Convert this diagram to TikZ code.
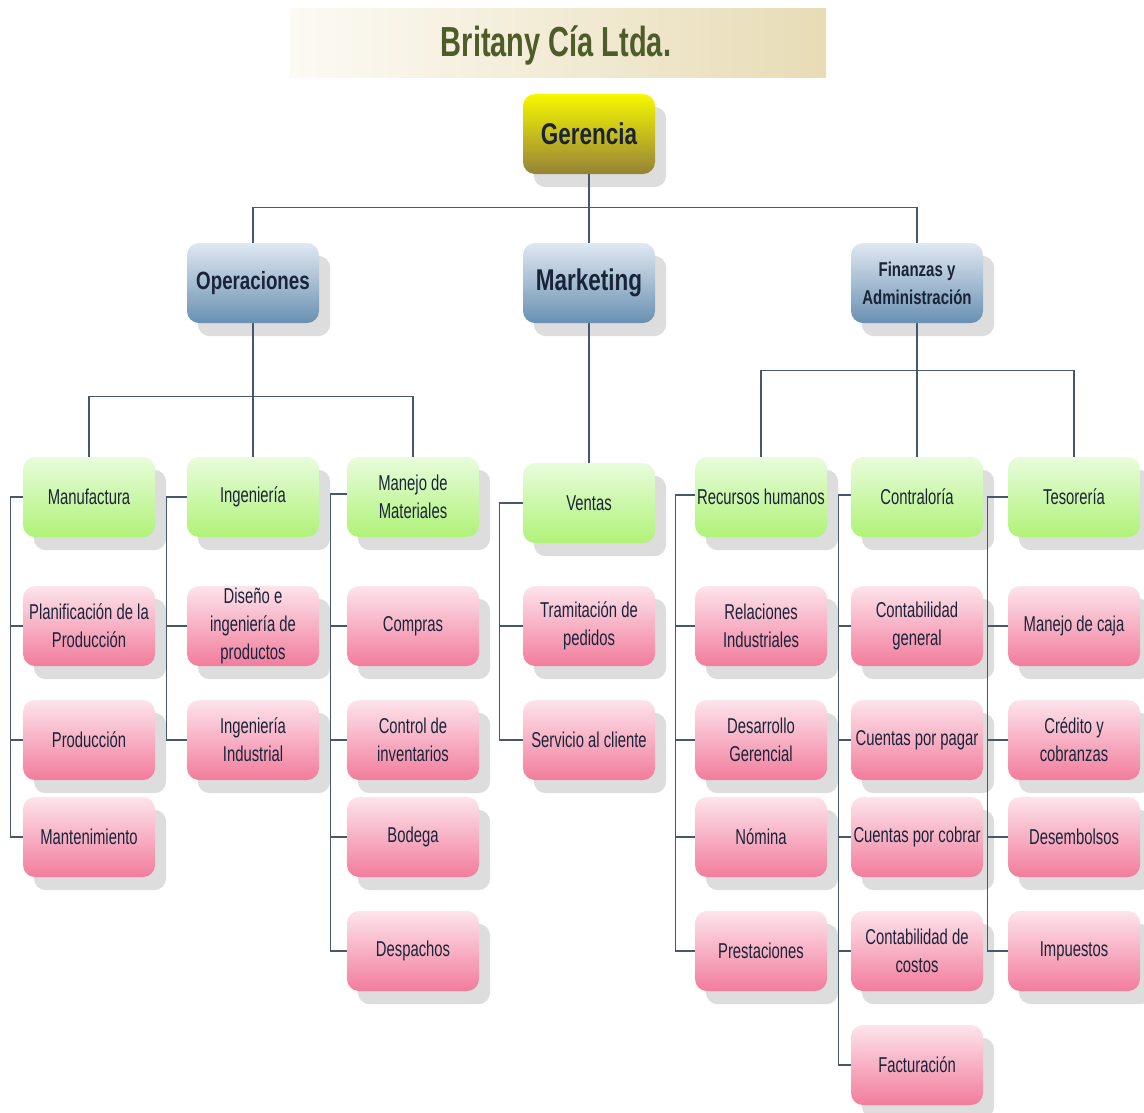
\documentclass[tikz,border=0pt]{standalone}
\usepackage{fontspec}
\setmainfont{Liberation Sans}
\newfontfamily\nf[FakeStretch=0.69]{Liberation Sans}
\newfontfamily\hf[FakeStretch=0.75]{Liberation Sans}
\pgfdeclarelayer{bglayer}
\pgfdeclarelayer{shadowlayer}
\pgfdeclarelayer{linelayer}
\pgfsetlayers{bglayer,shadowlayer,linelayer,main}

\definecolor{txt}{HTML}{1A2438}
\definecolor{titletxt}{HTML}{4E5C2A}
\definecolor{banL}{HTML}{FCFAF4}
\definecolor{banR}{HTML}{E8DCB6}
\definecolor{yTop}{HTML}{F8F800}
\definecolor{yMid}{HTML}{D2C414}
\definecolor{yBot}{HTML}{948238}
\definecolor{bTop}{HTML}{E0E8F2}
\definecolor{bBot}{HTML}{6890B2}
\definecolor{gTop}{HTML}{E8FCDC}
\definecolor{gBot}{HTML}{B0F278}
\definecolor{pTop}{HTML}{FDE4EC}
\definecolor{pBot}{HTML}{F27C9C}
\definecolor{shadowc}{HTML}{DDDDDD}
\definecolor{linec}{HTML}{46586E}

\tikzset{
  card/.style={rounded corners=12pt, minimum width=132pt, minimum height=80pt,
    inner sep=0pt, align=center, text=txt,
    font=\nf\fontsize{21.5}{28}\selectfont},
  greenbox/.style={card, top color=gTop, bottom color=gBot},
  pinkbox/.style={card, top color=pTop, bottom color=pBot},
  bluebox/.style={card, top color=bTop, bottom color=bBot,
    font=\hf\bfseries\fontsize{25}{28}\selectfont},
  goldbox/.style={card, top color=yTop, middle color=yMid, bottom color=yBot,
    font=\hf\bfseries\fontsize{30}{32}\selectfont},
  link/.style={draw=linec, line width=1.3pt},
}

\begin{document}
\begin{tikzpicture}[x=1pt,y=-1pt]
\useasboundingbox (0,0) rectangle (1144,1112);
\begin{pgfonlayer}{bglayer}
\fill[white] (0,0) rectangle (1144,1112);
\end{pgfonlayer}

% title banner
\node[minimum width=536pt, minimum height=69pt, inner sep=0pt,
      left color=banL, right color=banR] (title) at (558,42.5) {};
\node[text=titletxt, inner sep=0pt, font=\nf\bfseries\fontsize{42}{44}\selectfont]
  (titletext) at (556,45) {Britany Cía Ltda.};

% top levels
\node[goldbox] (g) at (589,134) {Gerencia};
\node[bluebox] (ops) at (253,283) {Operaciones};
\node[bluebox, font=\hf\bfseries\fontsize{30}{32}\selectfont] (mkt) at (589,283) {Marketing};
\node[bluebox, font=\hf\bfseries\fontsize{20}{28}\selectfont] (fin) at (917,283) {Finanzas y\\Administración};

% departments
\node[greenbox] (man) at (89,497) {Manufactura};
\node[greenbox] (ing) at (253,497) {Ingeniería};
\node[greenbox] (mm) at (413,497) {Manejo de\\Materiales};
\node[greenbox] (ven) at (589,503) {Ventas};
\node[greenbox] (rh) at (761,497) {Recursos humanos};
\node[greenbox] (con) at (917,497) {Contraloría};
\node[greenbox] (tes) at (1074,497) {Tesorería};

% units
\node[pinkbox] (a1) at (89,626) {Planificación de la\\Producción};
\node[pinkbox] (a2) at (89,740) {Producción};
\node[pinkbox] (a3) at (89,837) {Mantenimiento};

\node[pinkbox] (b1) at (253,626) {Diseño e\\ingeniería de\\productos};
\node[pinkbox] (b2) at (253,740) {Ingeniería\\Industrial};

\node[pinkbox] (c1) at (413,626) {Compras};
\node[pinkbox] (c2) at (413,740) {Control de\\inventarios};
\node[pinkbox] (c3) at (413,837) {Bodega};
\node[pinkbox] (c4) at (413,951) {Despachos};

\node[pinkbox] (d1) at (589,626) {Tramitación de\\pedidos};
\node[pinkbox] (d2) at (589,740) {Servicio al cliente};

\node[pinkbox] (e1) at (761,626) {Relaciones\\Industriales};
\node[pinkbox] (e2) at (761,740) {Desarrollo\\Gerencial};
\node[pinkbox] (e3) at (761,837) {Nómina};
\node[pinkbox] (e4) at (761,951) {Prestaciones};

\node[pinkbox] (f1) at (917,626) {Contabilidad\\general};
\node[pinkbox] (f2) at (917,740) {Cuentas por pagar};
\node[pinkbox] (f3) at (917,837) {Cuentas por cobrar};
\node[pinkbox] (f4) at (917,951) {Contabilidad de\\costos};
\node[pinkbox] (f5) at (917,1065) {Facturación};

\node[pinkbox] (h1) at (1074,626) {Manejo de caja};
\node[pinkbox] (h2) at (1074,740) {Crédito y\\cobranzas};
\node[pinkbox] (h3) at (1074,837) {Desembolsos};
\node[pinkbox] (h4) at (1074,951) {Impuestos};

% drop shadows
\begin{pgfonlayer}{shadowlayer}
\foreach \n in {g,ops,mkt,fin,man,ing,mm,ven,rh,con,tes,a1,a2,a3,b1,b2,c1,c2,c3,c4,
                d1,d2,e1,e2,e3,e4,f1,f2,f3,f4,f5,h1,h2,h3,h4}
  \fill[shadowc, rounded corners=12pt]
    ([shift={(11,13)}]\n.north west) rectangle ([shift={(11,13)}]\n.south east);
\end{pgfonlayer}

% connectors
\begin{pgfonlayer}{linelayer}
\draw[link] (g.south) -- (mkt.north);
\draw[link] (ops.north) -- ++(0,-35) -| (fin.north);

\draw[link] (ops.south) -- (ing.north);
\draw[link] (man.north) -- ++(0,-60) -| (mm.north);

\draw[link] (mkt.south) -- (ven.north);

\draw[link] (fin.south) -- (con.north);
\draw[link] (rh.north) -- ++(0,-86) -| (tes.north);

\foreach \c in {a1,a2,a3} \draw[link] (man.west) -- ++(-12,0) |- (\c.west);
\foreach \c in {b1,b2} \draw[link] (ing.west) -- ++(-20,0) |- (\c.west);
\foreach \c in {c1,c2,c3,c4} \draw[link] ([yshift=3]mm.west) -- ++(-16,0) |- (\c.west);
\foreach \c in {d1,d2} \draw[link] (ven.west) -- ++(-23,0) |- (\c.west);
\foreach \c in {e1,e2,e3,e4} \draw[link] ([yshift=2]rh.west) -- ++(-19,0) |- (\c.west);
\foreach \c in {f1,f2,f3,f4,f5} \draw[link] ([yshift=2]con.west) -- ++(-12,0) |- (\c.west);
\foreach \c in {h1,h2,h3,h4} \draw[link] (tes.west) -- ++(-20,0) |- (\c.west);
\end{pgfonlayer}
\end{tikzpicture}
\end{document}
